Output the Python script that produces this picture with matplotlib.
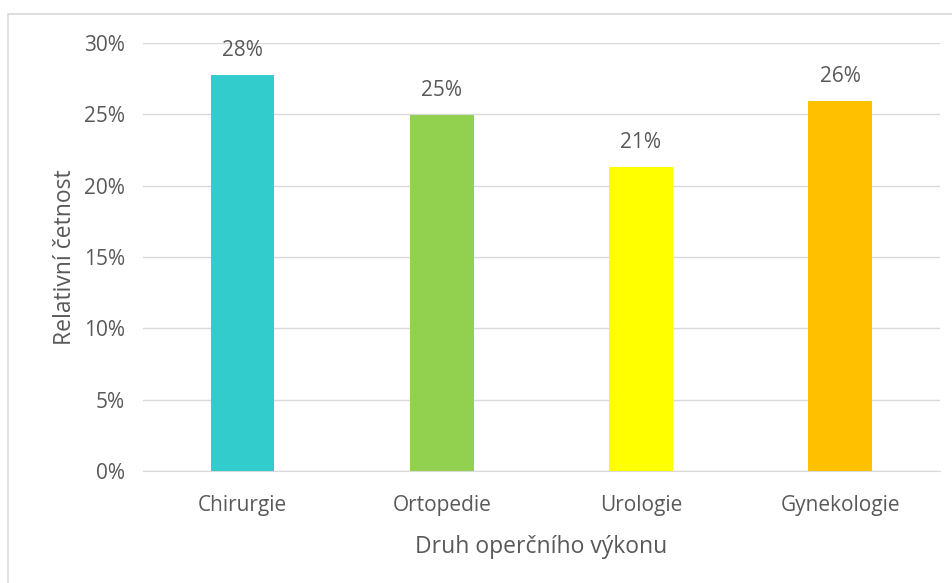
import matplotlib
matplotlib.use("Agg")
import matplotlib.pyplot as plt
from matplotlib.patches import Rectangle
from matplotlib.ticker import PercentFormatter

plt.rcParams['font.family'] = ['Open Sans', 'DejaVu Sans']

categories = ['Chirurgie', 'Ortopedie', 'Urologie', 'Gynekologie']
values = [27.75, 24.95, 21.3, 25.93]
labels = ['28%', '25%', '21%', '26%']
colors = ['#33CCCC', '#92D050', '#FFFF00', '#FFC000']
text_color = '#595959'

fig = plt.figure(figsize=(9.53, 5.83), dpi=100)
ax = fig.add_axes([0.150, 0.192, 0.836, 0.734])

x = range(len(categories))
bars = ax.bar(x, values, width=0.32, color=colors, zorder=3)
for b, lab in zip(bars, labels):
    ax.text(b.get_x() + b.get_width() / 2, b.get_height() + 1.0, lab,
            ha='center', va='bottom', fontsize=15, color=text_color)

ax.set_xlim(-0.5, len(categories) - 0.5)
ax.set_ylim(0, 30)
ax.set_yticks(range(0, 31, 5))
ax.yaxis.set_major_formatter(PercentFormatter(decimals=0))
ax.set_xticks(list(x))
ax.set_xticklabels(categories)
ax.tick_params(axis='both', length=0, labelsize=15, labelcolor=text_color)
ax.tick_params(axis='y', pad=13)
ax.tick_params(axis='x', pad=17)
ax.grid(axis='y', color='#D9D9D9', linewidth=1, zorder=0)
for s in ['top', 'right', 'left']:
    ax.spines[s].set_visible(False)
ax.spines['bottom'].set_color('#D9D9D9')

ax.set_xlabel('Druh operčního výkonu', fontsize=16.5, color=text_color, labelpad=14)
ax.set_ylabel('Relativní četnost', fontsize=16.5, color=text_color, labelpad=5)

# chart frame
fig.patches.append(Rectangle((8 / 953, -0.1), 1.2, 1.1 - 14 / 583, transform=fig.transFigure,
                             fill=False, edgecolor='#D9D9D9', linewidth=1.2))

fig.savefig('out.png', dpi=100)
